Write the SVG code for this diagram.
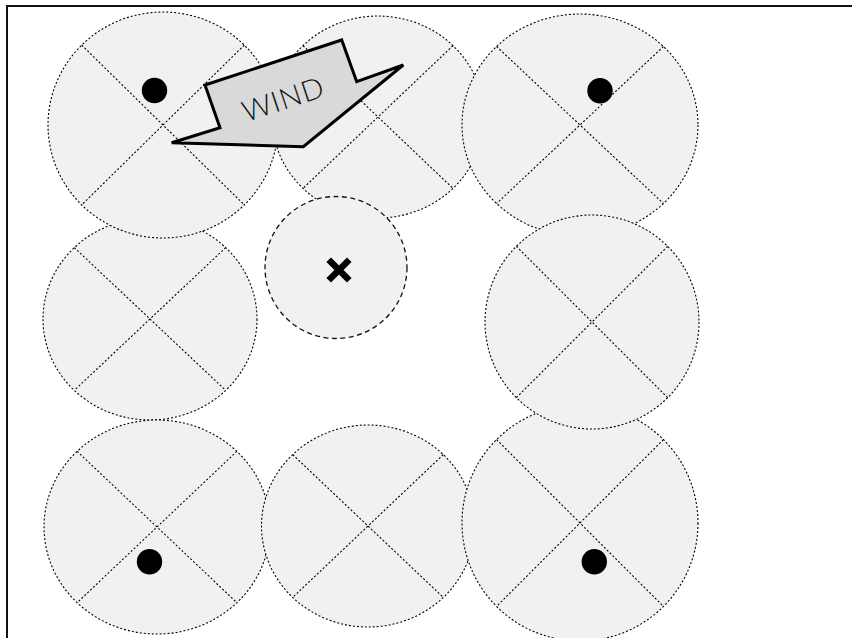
<svg xmlns="http://www.w3.org/2000/svg" width="852" height="638" viewBox="0 0 852 638">
  <style>
    .cell { fill: #f1f1f1; stroke: #000; stroke-width: 1.1; stroke-dasharray: 2 2; }
    .cross { stroke: #000; stroke-width: 1.1; stroke-dasharray: 2 2; fill: none; }
    .dot { fill: #000; }
    .site { fill: #f1f1f1; stroke: #111; stroke-width: 1.3; stroke-dasharray: 5 3.5; }
    .wind { fill: #d9d9d9; stroke: #000; stroke-width: 3; stroke-linejoin: miter; }
    .windtext { font-family: Lato, "Liberation Sans", sans-serif; font-weight: 300; font-size: 29px; fill: #111; }
  </style>
  <rect width="852" height="638" fill="#fff"/>
  <rect x="7" y="6" width="900" height="700" fill="none" stroke="#111" stroke-width="2"/>

  <g id="cell-mid-left">
    <ellipse class="cell" cx="150" cy="319" rx="107" ry="101"/>
    <line class="cross" x1="74.3" y1="247.6" x2="225.7" y2="390.4"/>
    <line class="cross" x1="225.7" y1="247.6" x2="74.3" y2="390.4"/>
  </g>
  <g id="cell-bottom-left">
    <ellipse class="cell" cx="157" cy="527" rx="113" ry="107"/>
    <line class="cross" x1="77.1" y1="451.3" x2="236.9" y2="602.7"/>
    <line class="cross" x1="236.9" y1="451.3" x2="77.1" y2="602.7"/>
    <circle class="dot" cx="149.5" cy="561.7" r="12.7"/>
  </g>
  <g id="cell-bottom-mid">
    <ellipse class="cell" cx="368" cy="526" rx="106.5" ry="101"/>
    <line class="cross" x1="292.7" y1="454.6" x2="443.3" y2="597.4"/>
    <line class="cross" x1="443.3" y1="454.6" x2="292.7" y2="597.4"/>
  </g>
  <g id="cell-bottom-right">
    <ellipse class="cell" cx="580" cy="523" rx="118" ry="118"/>
    <line class="cross" x1="496.6" y1="439.6" x2="663.4" y2="606.4"/>
    <line class="cross" x1="663.4" y1="439.6" x2="496.6" y2="606.4"/>
    <circle class="dot" cx="594.3" cy="561.7" r="12.7"/>
  </g>
  <g id="cell-top-left">
    <ellipse class="cell" cx="163" cy="125" rx="115" ry="113"/>
    <line class="cross" x1="81.7" y1="45.1" x2="244.3" y2="204.9"/>
    <line class="cross" x1="244.3" y1="45.1" x2="81.7" y2="204.9"/>
    <circle class="dot" cx="154.5" cy="90.5" r="12.7"/>
  </g>
  <g id="cell-top-mid">
    <ellipse class="cell" cx="378" cy="117" rx="106" ry="101"/>
    <line class="cross" x1="303" y1="45.6" x2="453" y2="188.4"/>
    <line class="cross" x1="453" y1="45.6" x2="303" y2="188.4"/>
  </g>
  <g id="cell-top-right">
    <ellipse class="cell" cx="580" cy="125" rx="118" ry="111"/>
    <line class="cross" x1="496.6" y1="46.5" x2="663.4" y2="203.5"/>
    <line class="cross" x1="663.4" y1="46.5" x2="496.6" y2="203.5"/>
    <circle class="dot" cx="600" cy="90.7" r="12.7"/>
  </g>
  <g id="cell-mid-right">
    <ellipse class="cell" cx="592" cy="322" rx="107" ry="107"/>
    <line class="cross" x1="516.3" y1="246.3" x2="667.7" y2="397.7"/>
    <line class="cross" x1="667.7" y1="246.3" x2="516.3" y2="397.7"/>
  </g>
  <g id="site-center">
    <circle class="site" cx="336" cy="267.5" r="71"/>
    <path d="M331,262 L347,278 M347,262 L331,278" stroke="#000" stroke-width="6.5" stroke-linecap="square" fill="none"/>
  </g>
  <g id="wind-arrow">
    <polygon class="wind" points="205,85 341.7,40 356.7,81.7 403.3,65 303.3,146.7 171.7,142.7 220,127.7"/>
    <text class="windtext" transform="translate(286,109) rotate(-18.4)" text-anchor="middle" textLength="84" lengthAdjust="spacing">WIND</text>
  </g>
</svg>
